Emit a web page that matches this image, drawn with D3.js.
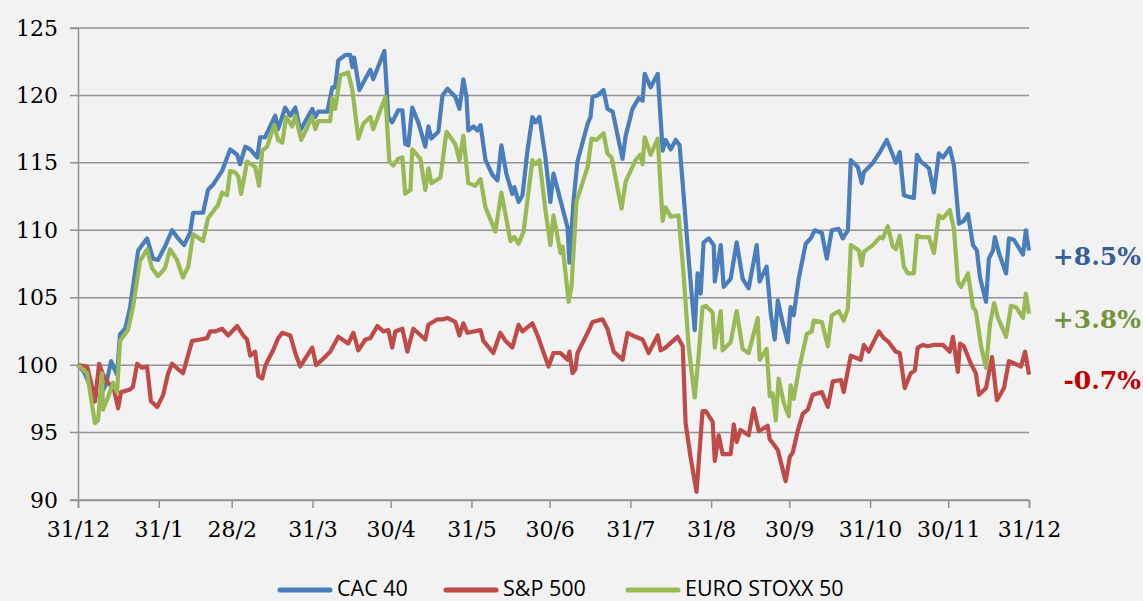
<!DOCTYPE html>
<html lang="fr">
<head>
<meta charset="utf-8">
<title>CAC 40 / S&P 500 / EURO STOXX 50</title>
<style>
  body { margin: 0; background: #f2f2f2; }
  svg { display: block; }
  .tick text { font-family: "DejaVu Serif", serif; font-size: 22px; fill: #000; }
  .legend text { font-family: "Liberation Sans Narrow", "Open Sans", sans-serif; font-size: 21.5px; fill: #000; }
  .perf { font-family: "DejaVu Serif", serif; font-size: 25px; font-weight: bold; }
</style>
</head>
<body>
<svg id="chart" width="1143" height="601"></svg>
<script src="https://cdn.jsdelivr.net/npm/d3@7"></script>
<script>
"use strict";

// jours écoulés depuis le 31/12/2014, valeurs base 100
var cac40 = [[0,100],[2.3,99.5],[4.6,98.5],[6.5,97.9],[8.5,97.7],[10.8,98.6],[12.7,100.3],[13.8,99.8],[15,99.3],[16.1,102.3],[18.1,102.7],[20,104.3],[23.1,108.5],[26.5,109.4],[28.8,107.9],[30.7,107.8],[33.4,108.8],[36.1,110],[38,109.5],[40.7,108.9],[43,109.8],[44.2,111.3],[48,111.3],[49.9,113],[51.9,113.4],[55.3,114.4],[58.4,116],[61.1,115.6],[62.2,114.9],[64.2,116.2],[66.1,116],[68.8,115.4],[69.9,116.9],[71.8,116.9],[75.7,118.5],[76.8,117.5],[79.5,119.1],[81.5,118.5],[83.4,119.1],[85.3,117.4],[89.9,119],[91.1,118.4],[92.2,118.8],[95.7,118.8],[97.6,120.6],[98.7,120.6],[99.9,122.6],[102.6,123],[104.5,123],[105.3,122.1],[106,122.8],[108,120.4],[111,121.5],[112.2,121.9],[113.3,121.2],[117.6,123.3],[119.1,118.4],[120.6,118],[122.9,118.9],[124.5,118.9],[125.6,116.4],[126.8,116.3],[128.3,119.1],[130.6,118],[133.3,116.2],[134.5,117.7],[135.6,116.8],[138.3,117.3],[139.9,120],[141.8,120.5],[144.8,119.9],[146.4,119],[147.9,121.2],[149.1,119.9],[149.8,117.4],[151.8,117.7],[153.3,117.4],[154.5,117.8],[156.4,115.2],[159.1,114.1],[161,113.7],[162.5,116.3],[164.4,114.2],[166.7,112.7],[167.5,113.2],[169.1,112.1],[170.6,112.6],[172.5,115.9],[174.4,118.4],[175.6,118],[177.1,118.4],[179.4,115.4],[181.3,112.1],[182.5,114.2],[185.2,112.2],[187.9,110.2],[188.6,107.6],[190.2,112.2],[191.7,115.1],[195.6,117.9],[196.7,118.4],[197.5,119.9],[199.4,120],[201.7,120.4],[203.2,119],[205.2,118.8],[209,115.3],[210.2,117],[212.8,119],[215.2,119.8],[216.7,119.6],[217.5,121.6],[219.8,120.6],[222.5,121.6],[224.4,115.9],[225.5,116.7],[227.5,116],[229.4,116.7],[230.9,116.3],[232.4,112.7],[234.4,107.8],[236.7,102.6],[237.8,106.8],[239,105.3],[240.1,109.1],[242.1,109.4],[244,108.9],[244.4,106.2],[246.7,108.9],[247.8,105.8],[250.5,106.4],[252.8,109.1],[255.1,106.4],[257.4,105.7],[260.5,108.9],[261.6,106.2],[264.3,107.3],[265.9,103.8],[267.4,101.9],[268.6,104.8],[270.5,103.1],[272.4,101.7],[273.5,104.3],[274.7,103.7],[276.6,106.4],[279.3,109],[281.2,109.4],[282.8,110],[285.5,109.8],[287.4,107.9],[289.3,110],[292,110.1],[293.5,109.4],[295.5,110],[296.6,115.2],[299.3,114.7],[300.8,113.5],[301.6,114.3],[305.1,115],[307.8,115.8],[310.4,116.7],[312.7,115.6],[313.9,115],[315.4,115.8],[317,112.6],[318.5,112.5],[320.8,112.4],[322,115.6],[323.5,115.1],[326.6,114.6],[328.5,112.8],[330.4,115.7],[332,115.4],[334.6,116.1],[336.2,114.8],[338.1,110.5],[340,110.7],[341.6,111.2],[343.5,108.9],[345,108.5],[346.2,106.5],[348.5,104.7],[349.6,107.9],[351.2,108.5],[351.9,109.5],[353.5,108.3],[356.2,106.8],[357.3,109.4],[359.2,109.3],[362.7,108.2],[363.8,110],[365,108.5]];

var sp500 = [[0,100],[3.5,99.9],[5.4,98.4],[6.5,97.3],[8.1,100.1],[9.6,99.3],[11.5,98.7],[13.8,98.2],[15.4,96.8],[16.5,98],[20,98.2],[21.1,98.4],[22.7,100.1],[24.6,99.8],[26.5,99.9],[28,97.3],[28.8,97.2],[30.4,96.9],[32.7,97.8],[34.6,99.4],[36.1,100.1],[38.4,99.7],[40.3,99.4],[41.9,100.5],[43.8,101.8],[46.9,101.9],[49.6,102],[50.7,102.5],[52.6,102.5],[55.3,102.7],[57.6,102.2],[61.1,102.9],[63.4,102.2],[64.9,101.9],[66.1,100.7],[68,101],[69.2,99.2],[70.7,99],[71.8,99.9],[73,100.4],[74.9,101.1],[76.8,102],[78.4,102.4],[81.5,102.2],[83.4,100.9],[85.3,99.9],[89.9,101.3],[91.4,100],[93.7,100.4],[96.8,101],[99.9,102.1],[103.7,101.6],[105.7,102.4],[107.6,101.1],[110.3,101.9],[112.2,102],[114.9,102.9],[117.2,102.5],[119.1,102.6],[120.6,101.3],[121.8,102.5],[124.5,102.7],[126.4,101],[128.7,102.7],[133.3,101.9],[134.5,103],[137.9,103.4],[140.2,103.4],[141.8,103.5],[144.8,103.2],[146.4,102.2],[147.9,103.1],[149.5,102.4],[154.5,102.6],[155.6,101.8],[159.4,100.9],[162.1,102.4],[164.1,101.8],[166.7,101.3],[169.1,103],[170.6,102.5],[174.4,103.1],[176.4,102.2],[180.6,99.9],[182.5,100.9],[185.2,100.9],[187.9,100.4],[188.6,101],[189.8,99.4],[190.9,99.7],[191.7,100.9],[195.6,102.4],[197.5,103.2],[201.3,103.4],[203.2,102.7],[205.6,101],[209,100.4],[210.9,102.4],[214,102.1],[216.7,101.9],[219,100.9],[222.5,102.2],[223.6,101.1],[225.5,101.3],[230.1,102.1],[232.1,101.4],[233.2,95.7],[235.1,93.2],[237.4,90.6],[239.7,96.6],[240.9,96.6],[243.6,95.8],[244.4,92.9],[245.9,94.8],[247.4,93.4],[250.5,93.4],[251.7,95.6],[252.8,94.3],[254.3,95.2],[257.4,94.8],[259.3,96.8],[261.3,95.1],[264.7,95.5],[265.5,94.5],[268.6,93.7],[271.6,91.4],[273.2,93.2],[274.3,93.5],[276.2,95.1],[278.2,96.4],[280.1,96.7],[282,97.8],[285.5,98],[287.8,96.9],[289.7,98.8],[292.8,98.9],[293.9,98],[296.6,100.7],[300.4,100.4],[301.6,101.5],[303.5,101],[307.4,102.5],[309.3,102],[311.2,101.7],[313.9,101],[315.4,100.9],[317.3,98.3],[319.6,99.4],[321.2,99.6],[322.3,101.3],[324.3,101.5],[326.2,101.4],[328.5,101.5],[332,101.5],[334.6,101],[335.8,102.1],[337.7,99.5],[338.5,101.6],[340,101.4],[342.7,100.1],[344.6,99.4],[345.8,97.8],[348.5,98.3],[350.8,100.6],[352.7,97.4],[355.4,98.3],[357.3,100.3],[361.9,99.9],[363.5,101],[365,99.3]];

var stoxx50 = [[0,100],[3.5,99.4],[6.5,95.7],[7.7,95.9],[9.2,99.4],[9.6,96.7],[11.5,97.6],[13.4,98.7],[15,98],[16.1,101.8],[19.2,102.6],[21.1,104.3],[23.8,107.7],[26.5,108.6],[28.4,107.2],[30.7,106.6],[33.4,107.2],[35.3,108.6],[38,107.8],[40.3,106.5],[42.3,107.3],[44.2,109.7],[48,109.2],[49.9,110.9],[53.8,111.9],[55.3,112.8],[57.2,112.6],[58.4,114.4],[60.3,114.3],[61.5,114],[62.6,112.7],[64.9,115.1],[68,114.7],[69.5,113.3],[70.7,115.9],[72.6,116.2],[75.3,117.8],[76.8,116.7],[78.4,116.5],[79.9,118.4],[82.2,117.7],[83.4,118.5],[85.7,116.7],[89.9,118.4],[91.1,117.5],[92.2,118.1],[96.8,118.1],[97.6,119.8],[98.7,119],[100.7,121.5],[103.7,121.7],[105.3,120.4],[107.6,116.8],[109.5,117.9],[112.2,118.4],[113.3,117.5],[118,119.9],[119.5,115.1],[121,114.8],[122.9,115.3],[124.5,115.4],[125.6,112.7],[127.6,113],[128.3,116],[131.4,115.3],[133.3,113],[134.5,114.6],[135.6,113.5],[139.1,113.9],[141.4,117.3],[144.8,116.4],[146.4,115.2],[147.9,117],[149.8,113.5],[152.5,113.3],[154.5,113.8],[156.4,111.7],[160.2,109.9],[162.5,112.8],[166,109.2],[167.5,109.5],[169.1,109],[171,109.9],[174.4,115.2],[175.6,114.9],[177.1,115.2],[179.4,111.5],[181.3,108.9],[182.5,111.1],[185.2,108.3],[186,108.8],[188.3,104.7],[189.4,105.8],[191.3,112.1],[195.6,114.7],[197.1,116.8],[199,116.7],[201.7,117.2],[203.2,115.7],[204.8,115.4],[208.6,111.6],[210.2,113.6],[214,115.2],[215.9,115.6],[216.7,114.9],[217.5,116.9],[219.8,115.6],[222.5,116.8],[224.4,110.7],[225.5,111.7],[227.5,111],[230.5,111.1],[232.4,106.8],[234.4,101.3],[236.7,97.6],[238.2,100.7],[239.7,104.3],[240.9,104.4],[243.6,103.9],[244.4,101.3],[246.7,104],[247.4,101.1],[250.5,101.7],[252.8,104],[255.1,101.2],[257.4,100.9],[260.9,103.5],[261.6,100.4],[264.3,101.2],[265.5,97.7],[266.6,97.9],[267.8,95.9],[268.9,99],[270.9,97.2],[272.8,96.2],[273.5,98.5],[274.7,97.5],[276.6,99.6],[279.7,102.3],[281.6,102.5],[282.4,103.3],[285.5,103.2],[287.8,101.4],[289.3,103.7],[292,104],[293.9,103.3],[295.5,104.2],[296.6,108.9],[299.7,108.5],[300.8,107.4],[301.6,108.4],[305.1,108.9],[307.8,109.5],[308.9,109.4],[310.8,110.3],[312.7,108.8],[313.9,108.6],[315.4,109.6],[317,107.3],[318.5,106.8],[320.8,106.8],[322,109.6],[323.5,109.5],[326.6,109.5],[328.5,108.3],[330.4,111.1],[332,110.9],[334.6,111.5],[336.2,110.1],[337.7,106.2],[338.9,105.8],[341.6,106.8],[343.5,104.3],[344.6,104],[346.6,101.4],[348.5,99.8],[350,103],[351.6,104.6],[353.1,103.5],[356.2,102.1],[358.1,104.4],[360,104.3],[362.7,103.5],[363.8,105.3],[365,103.8]];

var seriesNames = ["CAC 40", "S&P 500", "EURO STOXX 50"];
var colors = ["#4a7ebb", "#be4b48", "#98b954"];
var perfLabels = ["+8.5%", "-0.7%", "+3.8%"];
var perfColors = ["#366092", "#c00000", "#76933c"];
var monthEnds = ["2014-12-31","2015-01-31","2015-02-28","2015-03-31","2015-04-30","2015-05-31","2015-06-30","2015-07-31","2015-08-31","2015-09-30","2015-10-31","2015-11-30","2015-12-31"];
var yTicks = [90, 95, 100, 105, 110, 115, 120, 125];

var start = new Date(Date.UTC(2014, 11, 31));
function toDate(d) { return new Date(start.getTime() + d * 864e5); }

var svg = d3.select("#chart");
var plotLeft = 78, plotRight = 1029, plotTop = 28, plotBottom = 500;

var x = d3.scaleUtc()
  .domain([start, new Date(Date.UTC(2015, 11, 31))])
  .range([plotLeft, plotRight]);
var y = d3.scaleLinear().domain([90, 125]).range([plotBottom, plotTop]);

// grille horizontale
svg.append("g")
  .selectAll("line")
  .data(yTicks)
  .enter()
  .append("line")
  .attr("x1", plotLeft - 8)
  .attr("x2", plotRight)
  .attr("y1", function(d){ return y(d); })
  .attr("y2", function(d){ return y(d); })
  .attr("stroke", "#929292")
  .attr("stroke-width", 1.5);

// axe Y
var yAxis = svg.append("g")
  .attr("transform", "translate(" + plotLeft + ",0)")
  .call(d3.axisLeft(y).tickValues(yTicks).tickSize(8).tickPadding(12));
yAxis.select(".domain").attr("stroke", "#929292").attr("stroke-width", 1.5);
yAxis.selectAll(".tick line").remove();

// axe X
var xAxis = svg.append("g")
  .attr("transform", "translate(0," + plotBottom + ")")
  .call(d3.axisBottom(x)
    .tickValues(monthEnds.map(function(s){ return d3.utcParse("%Y-%m-%d")(s); }))
    .tickFormat(d3.utcFormat("%-d/%-m"))
    .tickSize(8)
    .tickPadding(13));
xAxis.select(".domain").attr("stroke", "#929292").attr("stroke-width", 1.5);
xAxis.selectAll(".tick line").attr("stroke", "#929292").attr("stroke-width", 1.5);

// courbes
var line = d3.line()
  .x(function(d){ return x(toDate(d[0])); })
  .y(function(d){ return y(d[1]); });

var allSeries = [cac40, sp500, stoxx50];
allSeries.forEach(function(s, i){
  svg.append("path")
    .datum(s)
    .attr("fill", "none")
    .attr("stroke", colors[i])
    .attr("stroke-width", 4.2)
    .attr("stroke-linejoin", "round")
    .attr("d", line);
});

// performances annuelles
allSeries.forEach(function(s, i){
  svg.append("text")
    .attr("class", "perf")
    .attr("x", 1141)
    .attr("y", y(s[s.length - 1][1]) + 5)
    .attr("dy", "0.36em")
    .attr("text-anchor", "end")
    .attr("fill", perfColors[i])
    .text(perfLabels[i]);
});

// légende
var legendX = [280, 446, 628];
var legend = svg.append("g").attr("class", "legend");
seriesNames.forEach(function(name, i){
  legend.append("line")
    .attr("x1", legendX[i]).attr("x2", legendX[i] + 50)
    .attr("y1", 590).attr("y2", 590)
    .attr("stroke", colors[i])
    .attr("stroke-width", 5)
    .attr("stroke-linecap", "round");
  legend.append("text")
    .attr("x", legendX[i] + 57)
    .attr("y", 596)
    .text(name);
});
</script>
</body>
</html>
